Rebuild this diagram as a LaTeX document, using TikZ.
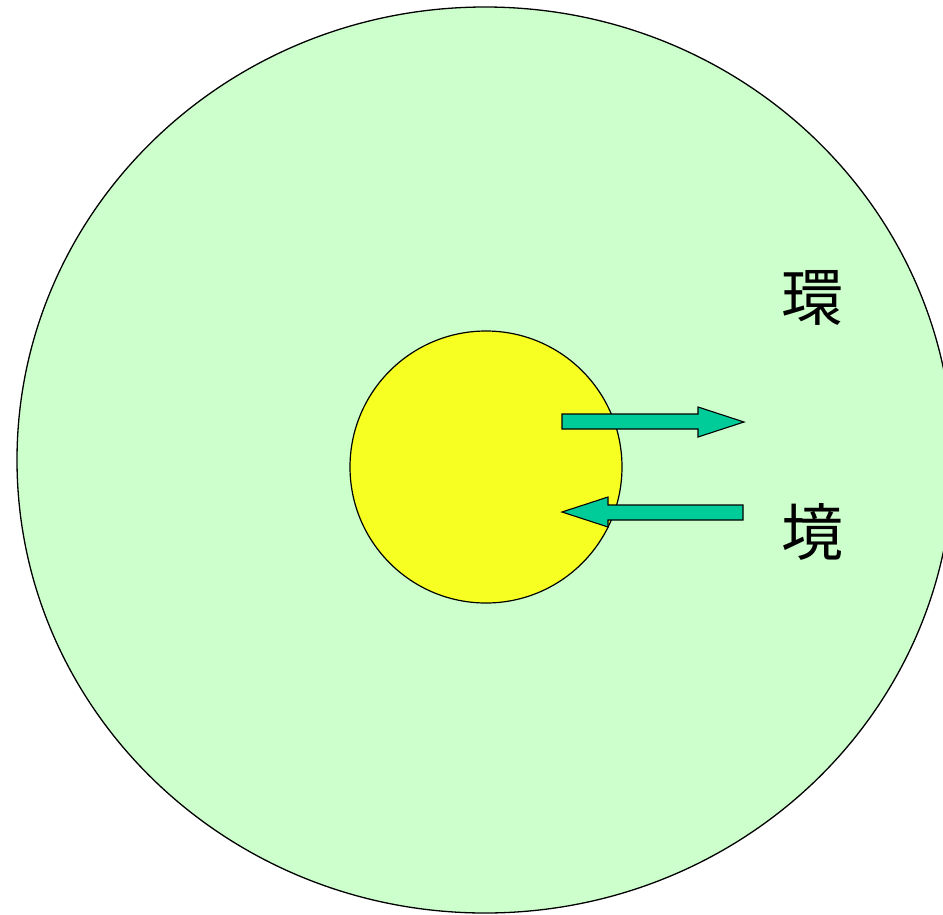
\documentclass[tikz,border=0pt]{standalone}
\usepackage{fontspec}
\newfontfamily\cjk{Noto Sans CJK JP}
\usetikzlibrary{shapes.geometric}
\definecolor{envgreen}{HTML}{CCFFCC}
\definecolor{selfyellow}{HTML}{F7FF22}
\definecolor{flowteal}{HTML}{00CC99}

\begin{document}
\begin{tikzpicture}[
  x=1pt, y=-1pt,
  env/.style={ellipse, draw=black, fill=envgreen, line width=1.3pt, inner sep=0pt, minimum width=936pt, minimum height=906pt},
  core/.style={circle, draw=black, fill=selfyellow, line width=1.2pt, inner sep=0pt, minimum size=272pt},
  flow/.style={draw=black, fill=flowteal, line width=1.1pt, line join=miter},
  kanji/.style={font=\cjk\fontsize{62}{62}\selectfont, inner sep=0pt},
]
\useasboundingbox (0,0) rectangle (943,914);

\node[env] (world) at (485,460) {};
\node[core] (self) at (486,467) {};

% outgoing and incoming flows
\draw[flow] (562,414) -- (698,414) -- (698,407) -- (744,422) -- (698,437) -- (698,429) -- (562,429) -- cycle;
\draw[flow] (743,505) -- (608,505) -- (608,497) -- (562,512) -- (608,527) -- (608,520) -- (743,520) -- cycle;

\node[kanji] (kan) at (812,298) {環};
\node[kanji] (kyo) at (812,532) {境};

\end{tikzpicture}
\end{document}
